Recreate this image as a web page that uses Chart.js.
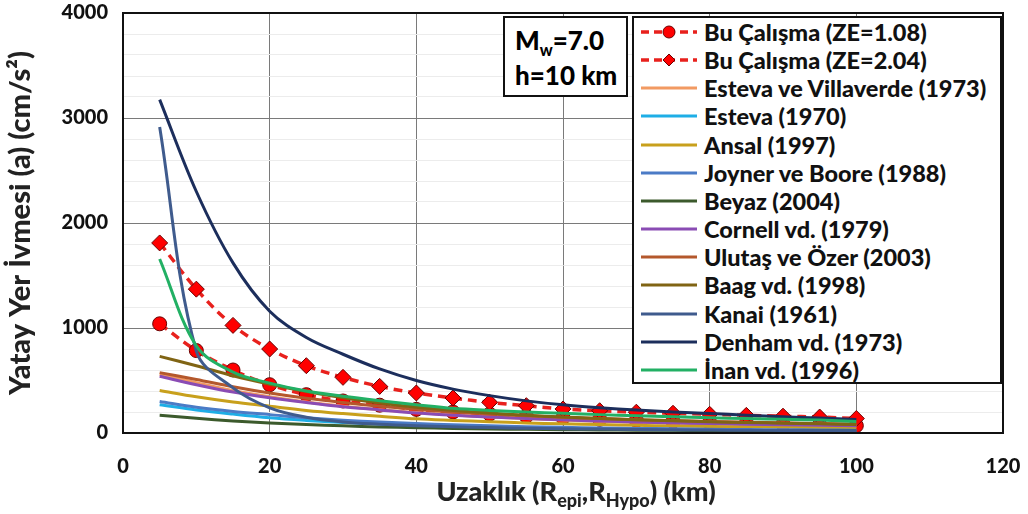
<!DOCTYPE html>
<html>
<head>
<meta charset="utf-8">
<script src="https://cdn.jsdelivr.net/npm/chart.js@4.4.0/dist/chart.umd.min.js"></script>
<style>
  html, body { margin: 0; padding: 0; background: #fff; }
  #wrap { position: relative; width: 1028px; height: 514px; font-family: Lato, "Open Sans", sans-serif; font-weight: 900; }
  #chart { position: absolute; left: 0; top: 0; }
  #xTitle { position: absolute; left: 376px; width: 400px; top: 474px; text-align: center; font-size: 27px; color: #222; white-space: nowrap; }
  #xTitle sub { font-size: 18px; }
  #infoBox { position: absolute; left: 503px; top: 16px; width: 121px; height: 77px; border: 2px solid #111; background: #fff; font-size: 26px; color: #000; }
  #infoBox div { position: absolute; left: 10px; white-space: nowrap; }
  #infoBox sub { font-size: 16px; }
  #legendBox { position: absolute; left: 632px; top: 16px; width: 366px; height: 364px; border: 2px solid #111; background: #fff; }
  .lg-row { position: absolute; left: 6px; height: 28px; display: flex; align-items: center; font-size: 23.5px; color: #111; white-space: nowrap; }
  .lg-row svg { margin-right: 6px; }
</style>
</head>
<body>
<div id="wrap">
  <canvas id="chart" width="1028" height="514"></canvas>
  <div id="infoBox">
    <div style="top:6px">M<sub>w</sub>=7.0</div>
    <div style="top:41px">h=10 km</div>
  </div>
  <div id="legendBox"></div>
  <div id="xTitle">Uzaklık (R<sub>epi</sub>,R<sub>Hypo</sub>) (km)</div>
</div>

<script>
/* ==========================
   DATA
========================== */
const distances = [5, 10, 15, 20, 25, 30, 35, 40, 45, 50, 55, 60, 65, 70, 75, 80, 85, 90, 95, 100];

const buCalismaZE108 = [1040, 785, 600, 460, 365, 305, 265, 225, 200, 180, 160, 145, 130, 120, 110, 100, 92, 85, 78, 70];
const buCalismaZE204 = [1810, 1370, 1025, 800, 641, 530, 444, 381, 333, 292, 260, 229, 212, 198, 188, 178, 168, 160, 152, 138];
const estevaVillaverde = [560, 480, 405, 345, 295, 255, 222, 195, 172, 153, 137, 124, 112, 102, 94, 86, 80, 74, 69, 64];
const esteva1970 = [270, 220, 180, 145, 120, 100, 85, 72, 62, 54, 48, 43, 39, 35, 32, 29, 27, 25, 23, 21];
const ansal = [405, 345, 295, 255, 215, 185, 160, 135, 120, 107, 96, 87, 80, 73, 67, 62, 58, 54, 50, 47];
const joynerBoore = [300, 245, 205, 175, 145, 122, 105, 90, 78, 68, 60, 54, 48, 44, 40, 36, 33, 31, 29, 27];
const beyaz = [168, 140, 115, 95, 80, 68, 58, 50, 44, 39, 35, 32, 29, 27, 25, 23, 21, 20, 19, 18];
const cornell = [540, 460, 390, 335, 290, 250, 220, 190, 170, 152, 138, 125, 114, 105, 97, 90, 84, 78, 73, 68];
const ulutasOzer = [575, 510, 440, 380, 330, 290, 255, 225, 200, 180, 165, 150, 138, 127, 118, 110, 103, 97, 91, 86];
const baag = [730, 640, 545, 465, 395, 335, 285, 245, 215, 190, 170, 152, 138, 126, 116, 107, 100, 93, 87, 82];
const kanai = [2914, 780, 430, 240, 150, 105, 84, 70, 60, 52, 46, 41, 37, 33, 30, 28, 26, 24, 22, 21];
const denham = [3175, 2300, 1620, 1160, 910, 750, 610, 500, 418, 356, 306, 268, 240, 218, 200, 185, 170, 155, 142, 128];
const inan = [1657, 830, 580, 475, 400, 350, 308, 270, 235, 215, 200, 188, 175, 165, 155, 145, 138, 130, 123, 110];

const seriesNames = [
    "Bu Çalışma (ZE=1.08)", "Bu Çalışma (ZE=2.04)", "Esteva ve Villaverde (1973)", "Esteva (1970)",
    "Ansal (1997)", "Joyner ve Boore (1988)", "Beyaz (2004)", "Cornell vd. (1979)",
    "Ulutaş ve Özer (2003)", "Baag vd. (1998)", "Kanai (1961)", "Denham vd. (1973)", "İnan vd. (1996)"
];
const seriesValues = [
    buCalismaZE108, buCalismaZE204, estevaVillaverde, esteva1970, ansal, joynerBoore, beyaz,
    cornell, ulutasOzer, baag, kanai, denham, inan
];
const seriesColors = [
    "#e8211d", "#e8211d", "#f29a62", "#1eaee6", "#c8a01c", "#4b7bc6", "#3c5a2c",
    "#8a4cb4", "#b4582c", "#806414", "#3f5b8d", "#1c2e5c", "#22b064"
];
// marker for each series (null = plain line)
const seriesMarkers = ["circle", "rectRot", null, null, null, null, null, null, null, null, null, null, null];

const xTicks = { min: 0, max: 120, step: 20 };
const yTicks = { min: 0, max: 4000, step: 200, major: 1000 };

/* ==========================
   BUILD DATASETS
========================== */
function buildDatasets() {
    return seriesNames.map((name, i) => {
        const marker = seriesMarkers[i];
        return {
            label: name,
            data: distances.map((d, k) => ({ x: d, y: seriesValues[i][k] })),
            borderColor: seriesColors[i],
            backgroundColor: marker ? "#ff0000" : seriesColors[i],
            borderWidth: marker ? 3.5 : 3,
            borderDash: marker ? [9, 6] : [],
            pointStyle: marker || "circle",
            pointRadius: marker ? (marker === "circle" ? 7 : 8) : 0,
            pointBorderColor: "#6a0000",
            pointBorderWidth: 1,
            pointBackgroundColor: "#ff0000",
            tension: 0.35,
            // first series in the list is drawn underneath
            order: seriesNames.length - i
        };
    });
}

/* ==========================
   LEGEND (HTML)
========================== */
function buildLegend() {
    const box = document.getElementById("legendBox");
    seriesNames.forEach((name, i) => {
        const row = document.createElement("div");
        row.className = "lg-row";
        row.style.top = (0 + i * 28.15) + "px";
        const col = seriesColors[i];
        let svg = `<svg width="58" height="16">`;
        if (seriesMarkers[i]) {
            svg += `<line x1="1" y1="8" x2="57" y2="8" stroke="${col}" stroke-width="3.5" stroke-dasharray="8,5"/>`;
            if (seriesMarkers[i] === "circle") {
                svg += `<circle cx="29" cy="8" r="6" fill="#ff0000" stroke="#6a0000" stroke-width="1"/>`;
            } else {
                svg += `<polygon points="29,2 35,8 29,14 23,8" fill="#ff0000" stroke="#6a0000" stroke-width="1"/>`;
            }
        } else {
            svg += `<line x1="1" y1="8" x2="57" y2="8" stroke="${col}" stroke-width="3"/>`;
        }
        svg += `</svg>`;
        row.innerHTML = svg + `<span>${name}</span>`;
        box.appendChild(row);
    });
}

/* ==========================
   FRAME AROUND PLOT AREA
========================== */
const framePlugin = {
    id: "frame",
    afterDraw(chart) {
        const { ctx, chartArea: a } = chart;
        ctx.save();
        ctx.strokeStyle = "#111";
        ctx.lineWidth = 2;
        ctx.strokeRect(a.left, a.top, a.right - a.left, a.bottom - a.top);
        ctx.restore();
    }
};

/* ==========================
   DRAW CHART
========================== */
function renderChart() {
    const ctx = document.getElementById("chart").getContext("2d");
    const tickFont = { family: "Lato, 'Open Sans', sans-serif", weight: "900", size: 20 };

    new Chart(ctx, {
        type: "line",
        data: { datasets: buildDatasets() },
        plugins: [framePlugin],
        options: {
            responsive: false,
            animation: false,
            layout: { padding: { top: 13, right: 25, bottom: 0, left: 0 } },
            plugins: { legend: { display: false }, tooltip: { enabled: false } },
            scales: {
                x: {
                    type: "linear",
                    min: xTicks.min,
                    max: xTicks.max,
                    ticks: { stepSize: xTicks.step, color: "#111", font: tickFont, padding: 0 },
                    grid: { color: "#7a7a7a", lineWidth: 1, drawTicks: true, tickLength: 22, tickColor: "transparent" },
                    border: { color: "#111", width: 2 },
                    afterFit: s => { s.height = 81; }
                },
                y: {
                    min: yTicks.min,
                    max: yTicks.max,
                    ticks: {
                        stepSize: yTicks.step,
                        autoSkip: false,
                        color: "#111",
                        font: tickFont,
                        padding: 0,
                        callback: v => (v % yTicks.major === 0 ? v : "")
                    },
                    grid: {
                        drawTicks: true,
                        tickLength: 15,
                        tickColor: "transparent",
                        color: c => (c.tick && c.tick.value % yTicks.major === 0 ? "#7a7a7a" : "#ececec"),
                        lineWidth: 1
                    },
                    border: { color: "#111", width: 2 },
                    title: {
                        display: true,
                        text: "Yatay Yer İvmesi (a) (cm/s²)",
                        color: "#222",
                        font: { family: "Lato, 'Open Sans', sans-serif", weight: "900", size: 29 },
                        padding: { top: 3, bottom: 0 }
                    },
                    afterFit: s => { s.width = 123; }
                }
            }
        }
    });
}

document.addEventListener("DOMContentLoaded", function() {
    buildLegend();
    renderChart();
});
</script>
</body>
</html>
